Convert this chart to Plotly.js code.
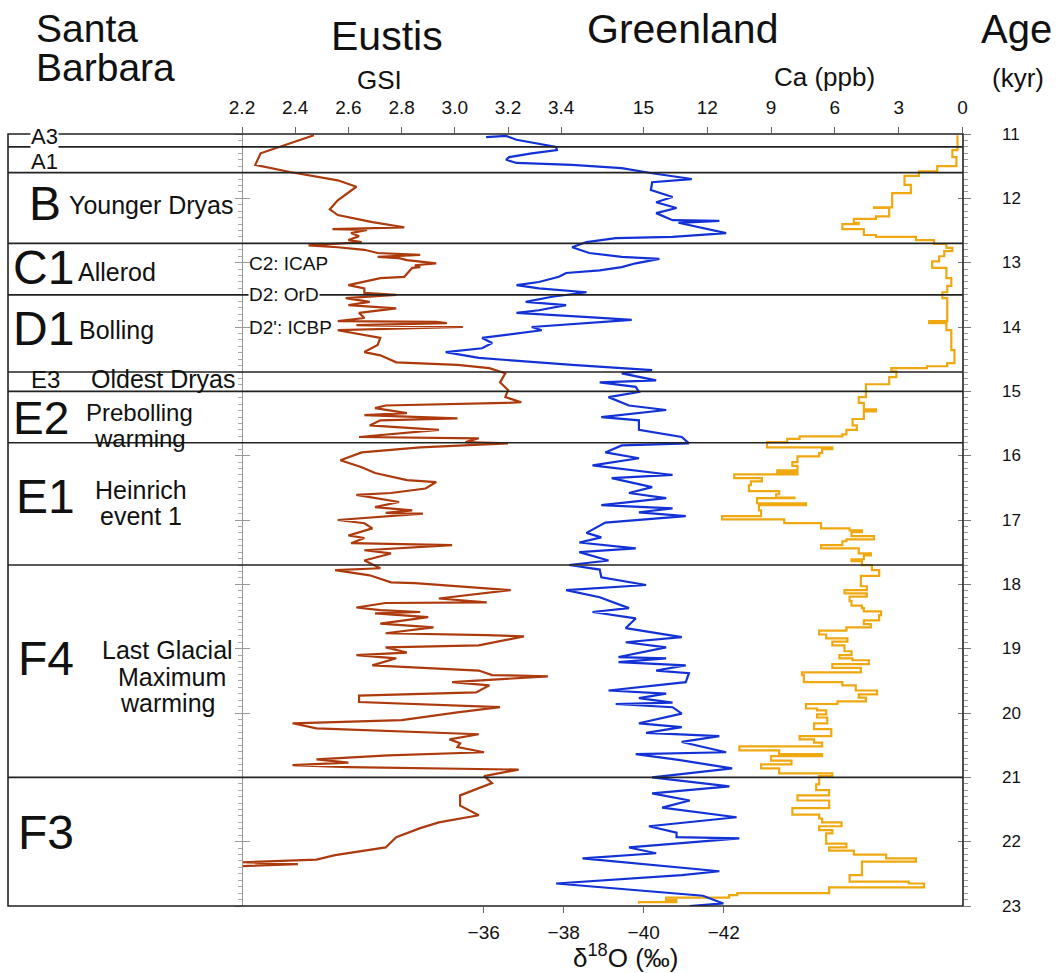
<!DOCTYPE html>
<html>
<head>
<meta charset="utf-8">
<script src="https://cdn.plot.ly/plotly-3.0.1.min.js"></script>
<style>html,body{margin:0;padding:0;background:#fff;}#chart{width:1059px;height:973px;}</style>
</head>
<body>
<div id="chart"></div>
<script>
// ---- Eustis GSI (age kyr, GSI) ----
const ageGSI = [11.02,11.30,11.48,11.59,11.72,11.82,12.03,12.17,12.26,12.37,12.45,12.46,12.48,12.49,12.54,12.59,12.65,12.68,12.73,12.76,12.80,12.85,12.88,12.91,12.93,12.96,13.01,13.04,13.07,13.08,13.22,13.24,13.30,13.35,13.40,13.47,13.50,13.55,13.61,13.66,13.71,13.78,13.86,13.91,13.92,13.94,13.97,14.00,14.05,14.13,14.17,14.28,14.39,14.44,14.55,14.59,14.64,14.72,14.86,14.98,15.09,15.17,15.18,15.22,15.26,15.34,15.37,15.42,15.45,15.53,15.60,15.71,15.73,15.79,15.81,15.87,15.95,16.07,16.18,16.27,16.38,16.41,16.51,16.58,16.61,16.72,16.80,16.85,16.89,16.90,16.93,17.00,17.05,17.13,17.24,17.28,17.36,17.39,17.47,17.52,17.63,17.75,17.78,17.86,17.97,17.98,18.09,18.22,18.28,18.29,18.36,18.40,18.43,18.45,18.51,18.61,18.67,18.76,18.79,18.81,18.95,18.98,19.06,19.10,19.15,19.26,19.34,19.41,19.43,19.52,19.57,19.68,19.73,19.83,19.91,19.99,20.11,20.16,20.24,20.33,20.41,20.47,20.53,20.61,20.66,20.72,20.77,20.81,20.84,20.88,20.98,21.09,21.28,21.44,21.59,21.70,21.79,21.93,22.09,22.21,22.28,22.32,22.35,22.38];
const gsi = [2.47,2.27,2.25,2.38,2.56,2.63,2.56,2.53,2.56,2.69,2.81,2.74,2.54,2.67,2.61,2.64,2.60,2.65,2.45,2.56,2.66,2.71,2.87,2.71,2.79,2.82,2.93,2.85,2.87,2.84,2.81,2.72,2.65,2.60,2.66,2.66,2.78,2.59,2.68,2.60,2.78,2.64,2.66,2.56,2.93,2.97,2.63,3.03,2.56,2.66,2.72,2.71,2.66,2.72,2.78,3.01,3.13,3.19,3.17,3.20,3.19,3.25,3.19,2.74,2.70,2.82,2.66,3.01,2.72,2.68,2.94,2.64,3.09,3.04,3.20,2.87,2.65,2.57,2.65,2.70,2.82,2.93,2.89,2.76,2.63,2.79,2.70,2.84,2.74,2.88,2.78,2.56,2.66,2.69,2.60,2.66,2.61,2.99,2.66,2.76,2.66,2.72,2.55,2.68,2.76,2.85,3.21,2.94,3.12,2.74,2.63,2.72,2.87,2.70,2.90,2.72,2.92,2.74,3.12,3.26,3.09,2.74,2.82,2.63,2.78,2.69,3.09,3.14,3.35,2.99,3.13,3.08,2.64,2.64,3.17,3.01,2.80,2.39,2.48,3.09,2.98,3.02,3.01,3.11,2.75,2.48,2.60,2.39,2.60,3.24,3.11,3.14,3.02,3.02,3.09,2.94,2.87,2.78,2.74,2.55,2.48,2.20,2.41,2.20];

// ---- Greenland d18O (age kyr, permil) ----
const ageO = [11.05,11.03,11.09,11.20,11.25,11.30,11.36,11.40,11.45,11.48,11.53,11.61,11.70,11.75,11.87,11.98,12.06,12.15,12.23,12.34,12.35,12.38,12.54,12.60,12.62,12.68,12.76,12.85,12.91,12.94,13.01,13.07,13.12,13.16,13.22,13.30,13.35,13.40,13.46,13.53,13.61,13.66,13.74,13.78,13.85,13.89,14.00,14.05,14.17,14.25,14.33,14.39,14.48,14.59,14.67,14.72,14.83,14.86,14.93,15.01,15.09,15.22,15.29,15.40,15.45,15.60,15.71,15.81,15.84,15.95,16.04,16.15,16.30,16.35,16.49,16.58,16.66,16.77,16.82,16.88,16.94,17.04,17.20,17.27,17.35,17.44,17.50,17.63,17.70,17.77,17.89,18.01,18.09,18.20,18.37,18.43,18.53,18.68,18.82,18.90,18.98,19.13,19.15,19.21,19.26,19.34,19.38,19.52,19.65,19.70,19.77,19.84,19.86,19.91,20.01,20.16,20.22,20.31,20.36,20.45,20.61,20.64,20.73,20.86,21.00,21.14,21.25,21.36,21.47,21.62,21.76,21.86,21.93,21.95,22.09,22.18,22.26,22.46,22.52,22.65,22.84,22.96,23.00];
const d18O = [-36.06,-36.56,-36.82,-37.81,-37.83,-37.20,-36.64,-36.56,-36.82,-38.21,-39.45,-40.21,-41.20,-40.21,-40.18,-40.72,-40.31,-40.82,-40.31,-40.72,-41.89,-40.87,-42.06,-40.72,-39.30,-38.57,-38.21,-38.64,-39.45,-40.39,-39.80,-39.45,-38.90,-38.06,-37.88,-37.38,-36.82,-37.38,-38.57,-37.71,-37.05,-38.06,-37.38,-36.82,-38.72,-39.70,-37.20,-37.45,-35.96,-36.21,-35.96,-35.05,-35.88,-38.21,-40.21,-39.45,-40.31,-38.90,-39.80,-39.88,-39.12,-39.63,-40.56,-38.94,-39.88,-39.88,-40.95,-41.13,-39.45,-39.04,-39.88,-38.72,-40.72,-39.20,-40.21,-39.63,-40.56,-38.94,-40.72,-39.88,-41.05,-39.04,-38.57,-38.94,-38.39,-39.80,-38.39,-39.12,-38.14,-38.90,-38.94,-40.06,-38.06,-38.90,-39.63,-38.72,-39.80,-39.55,-40.95,-39.55,-40.56,-39.37,-40.56,-39.37,-41.05,-40.31,-41.13,-41.05,-39.12,-40.56,-39.88,-40.72,-39.30,-40.72,-40.95,-39.88,-40.95,-40.06,-41.89,-40.95,-42.06,-39.80,-40.87,-42.21,-40.21,-42.14,-40.21,-41.15,-40.46,-42.32,-40.13,-40.82,-40.82,-42.39,-39.63,-40.31,-38.47,-41.89,-40.95,-37.81,-41.48,-41.99,-41.15];

// ---- Greenland Ca (age kyr, ppb), stepped ----
const ageCa = [11.02,11.25,11.36,11.50,11.58,11.65,11.79,11.92,12.14,12.15,12.28,12.32,12.38,12.40,12.48,12.57,12.60,12.65,12.71,12.77,12.82,12.90,12.98,13.08,13.24,13.36,13.46,13.55,13.91,13.94,14.05,14.36,14.56,14.61,14.64,14.69,14.78,14.89,15.09,15.18,15.28,15.31,15.43,15.53,15.60,15.67,15.70,15.74,15.79,15.87,15.90,15.96,16.01,16.10,16.16,16.23,16.26,16.29,16.35,16.40,16.46,16.55,16.60,16.65,16.66,16.74,16.77,16.85,16.94,16.99,17.05,17.13,17.16,17.19,17.25,17.30,17.33,17.39,17.44,17.52,17.55,17.61,17.64,17.70,17.78,17.87,18.03,18.09,18.14,18.19,18.26,18.33,18.37,18.42,18.48,18.56,18.62,18.67,18.72,18.78,18.84,18.89,18.95,19.04,19.10,19.15,19.18,19.24,19.30,19.37,19.41,19.52,19.57,19.65,19.71,19.76,19.82,19.86,19.93,19.96,20.02,20.07,20.16,20.25,20.36,20.41,20.46,20.52,20.58,20.64,20.67,20.74,20.80,20.86,20.94,20.98,21.11,21.20,21.28,21.36,21.48,21.58,21.64,21.70,21.76,21.82,21.87,22.03,22.09,22.14,22.20,22.26,22.31,22.52,22.62,22.65,22.71,22.80,22.83,22.87,22.91,22.94,22.96];
const ca = [0.24,0.48,0.29,1.19,2.05,2.73,2.43,3.31,4.16,3.45,4.07,5.11,4.88,5.65,4.64,4.07,2.19,1.34,0.76,0.48,0.86,1.10,1.43,0.76,0.53,0.72,0.95,0.72,1.57,0.76,0.53,0.38,0.72,1.67,3.35,3.11,3.45,4.54,4.88,4.64,4.07,4.64,5.17,4.97,5.46,5.65,7.66,8.24,9.19,6.12,6.60,6.74,7.76,8.00,7.76,8.71,7.76,10.73,9.43,9.95,10.04,8.62,8.76,7.90,9.66,7.36,9.57,9.47,11.30,8.38,6.65,5.31,4.73,5.22,4.16,5.46,5.65,6.65,4.88,4.31,4.64,5.22,4.73,4.26,3.92,4.78,4.50,5.55,4.50,5.31,5.22,4.73,4.64,3.83,3.92,4.64,4.31,5.46,6.74,6.41,5.41,6.12,5.55,5.22,5.79,5.17,4.40,6.12,4.78,7.55,7.46,5.65,5.02,4.02,4.88,4.54,5.88,7.36,6.84,6.41,6.84,6.36,6.98,6.17,7.66,6.98,6.60,10.49,8.62,6.60,9.00,8.04,9.47,8.62,6.12,6.74,6.88,6.27,7.76,6.27,8.00,6.74,6.60,5.69,6.74,6.12,6.41,5.46,6.27,5.11,3.59,2.19,4.73,5.31,2.53,1.81,6.27,10.59,10.97,13.93,13.45,15.21,15.21];

// ---- Santa Barbara zone boundaries (kyr) ----
const boundaryAges = [11.2, 11.6, 12.7, 13.5, 14.7, 15.0, 15.8, 17.7, 21.0];

// ---- Tick labels ----
const gsiTicks = [2.2, 2.4, 2.6, 2.8, 3.0, 3.2, 3.4];
const caTicks = [15, 12, 9, 6, 3, 0];
const d18OTicks = [-36, -38, -40, -42];
const ageTicks = [11,12,13,14,15,16,17,18,19,20,21,22,23];

// ---- Zone labels [text, age, size, xpaper, anchor, bg] ----
const zoneLabels = [
  ['A3', 11.04, 22, 0.023, 'left', true],
  ['A1', 11.42, 22, 0.023, 'left', false],
  ['B', 12.08, 48, 0.021, 'left', false],
  ['Younger Dryas', 12.10, 25, 0.0628, 'left', false],
  ['C1', 13.08, 48, 0.004, 'left', false],
  ['Allerod', 13.15, 25, 0.0723, 'left', false],
  ['D1', 14.02, 48, 0.004, 'left', false],
  ['Bolling', 14.05, 25, 0.0733, 'left', false],
  ['E3', 14.81, 24, 0.023, 'left', false],
  ['Oldest Dryas', 14.81, 25, 0.0859, 'left', false],
  ['E2', 15.42, 46, 0.004, 'left', false],
  ['Prebolling', 15.33, 24, 0.1382, 'center', false],
  ['warming', 15.74, 24, 0.1382, 'center', false],
  ['E1', 16.63, 48, 0.0073, 'left', false],
  ['Heinrich', 16.53, 25, 0.1393, 'center', false],
  ['event 1', 16.94, 25, 0.1393, 'center', false],
  ['F4', 19.15, 48, 0.0094, 'left', false],
  ['Last Glacial', 19.02, 25, 0.1675, 'center', false],
  ['Maximum', 19.44, 25, 0.1717, 'center', false],
  ['warming', 19.84, 25, 0.1675, 'center', false],
  ['F3', 21.86, 48, 0.0094, 'left', false],
  ['C2: ICAP', 13.01, 19, 0.2513, 'left', false],
  ['D2: OrD', 13.49, 19, 0.2513, 'left', true],
  ["D2': ICBP", 14.00, 19, 0.2513, 'left', false]
];

const FONT = '"Liberation Sans", Arial, Helvetica, sans-serif';
const axisCommon = {showgrid:false, zeroline:false, showline:false, ticks:'outside', ticklen:6, tickcolor:'#666', tickwidth:1, tickfont:{family:FONT, size:19, color:'#111'}};

const traces = [
  {x: gsi, y: ageGSI, xaxis:'x', yaxis:'y', mode:'lines', line:{color:'#ac3a0c', width:2.2}, hoverinfo:'skip'},
  {x: d18O, y: ageO, xaxis:'x3', yaxis:'y', mode:'lines', line:{color:'#1232d6', width:2.2}, hoverinfo:'skip'},
  {x: ca, y: ageCa, xaxis:'x2', yaxis:'y', mode:'lines', line:{color:'#f0a810', width:2.2, shape:'vh'}, hoverinfo:'skip'}
];
// invisible anchors so the extra tick-only axes are drawn
['y2','y3','y4'].forEach(ya => traces.push({x:[gsi[0]], y:[ageGSI[0]], xaxis:'x', yaxis:ya, mode:'markers', marker:{opacity:0}, hoverinfo:'skip'}));

const shapes = [
  {type:'rect', xref:'paper', yref:'paper', x0:0, x1:1, y0:0, y1:1, line:{color:'#222', width:1.6}}
];
boundaryAges.forEach(a => shapes.push({type:'line', xref:'paper', yref:'y', x0:0, x1:1, y0:a, y1:a, line:{color:'#222', width:1.6}}));

const annotations = [];
zoneLabels.forEach(z => annotations.push({
  text: z[0], xref:'paper', yref:'y', x: z[3], y: z[1], xanchor: z[4], yanchor:'middle',
  showarrow:false, font:{family:FONT, size:z[2], color:'#111'},
  bgcolor: z[5] ? '#ffffff' : 'rgba(0,0,0,0)', borderpad: 0
}));
// Age tick labels on the right, one per tick value
ageTicks.forEach(a => annotations.push({
  text: String(a), xref:'paper', yref:'y', x: 1.0503, y: a, xanchor:'center', yanchor:'middle',
  showarrow:false, font:{family:FONT, size:17, color:'#111'}
}));
const headers = [
  ['Santa', 0.0272, 1.1364, 39, 'left'],
  ['Barbara', 0.0272, 1.0855, 39, 'left'],
  ['Eustis', 0.3969, 1.1266, 41, 'center'],
  ['GSI', 0.3895, 1.0699, 26, 'center'],
  ['Greenland', 0.7058, 1.1354, 41, 'center'],
  ['Ca (ppb)', 0.8545, 1.0742, 26, 'center'],
  ['Age', 1.0565, 1.1354, 40, 'center'],
  ['(kyr)', 1.0576, 1.0731, 26, 'center'],
  ['\u03b4<sup>18</sup>O (\u2030)', 0.6467, -0.0650, 26, 'center']
];
headers.forEach(h => annotations.push({
  text: h[0], xref:'paper', yref:'paper', x:h[1], y:h[2], xanchor:h[4], yanchor:'middle',
  showarrow:false, font:{family:FONT, size:h[3], color:'#111'}
}));

const yBase = {range:[23, 11], showgrid:false, zeroline:false, showline:false, showticklabels:false, tickvals:ageTicks};
const layout = {
  width:1059, height:973,
  margin:{l:8, r:96, t:134, b:67, pad:0},
  paper_bgcolor:'#fff', plot_bgcolor:'#fff',
  showlegend:false,
  font:{family:FONT, color:'#111'},
  xaxis: Object.assign({}, axisCommon, {side:'top', anchor:'y', domain:[0,1], range:[1.3203, 4.9105], tickvals:gsiTicks, tickformat:'.1f', ticklabelstandoff:5}),
  xaxis2: Object.assign({}, axisCommon, {side:'top', overlaying:'x', anchor:'y', range:[44.86, -0.02], tickvals:caTicks, ticklabelstandoff:5}),
  xaxis3: Object.assign({}, axisCommon, {side:'bottom', overlaying:'x', anchor:'y', range:[-24.11, -47.98], tickvals:d18OTicks, ticklabelstandoff:3}),
  yaxis: Object.assign({}, yBase, {side:'right', anchor:'x', ticks:'outside', ticklen:7, tickcolor:'#777',
          minor:{dtick:0.1, ticks:'outside', ticklen:4, tickcolor:'#999', showgrid:false}}),
  yaxis3: Object.assign({}, yBase, {overlaying:'y', side:'right', anchor:'x', ticks:'inside', ticklen:5, tickcolor:'#777'}),
  yaxis2: Object.assign({}, yBase, {overlaying:'y', anchor:'free', position:0.2450, side:'left',
           showline:true, linecolor:'#999', linewidth:1, ticks:'inside', ticklen:7, tickcolor:'#999',
           minor:{dtick:0.1, ticks:'outside', ticklen:4, tickcolor:'#aaa', showgrid:false}}),
  yaxis4: Object.assign({}, yBase, {overlaying:'y', anchor:'free', position:0.2450, side:'left',
           ticks:'outside', ticklen:7, tickcolor:'#999'}),
  shapes: shapes,
  annotations: annotations
};

Plotly.newPlot('chart', traces, layout, {displayModeBar:false, staticPlot:true});
</script>
</body>
</html>
